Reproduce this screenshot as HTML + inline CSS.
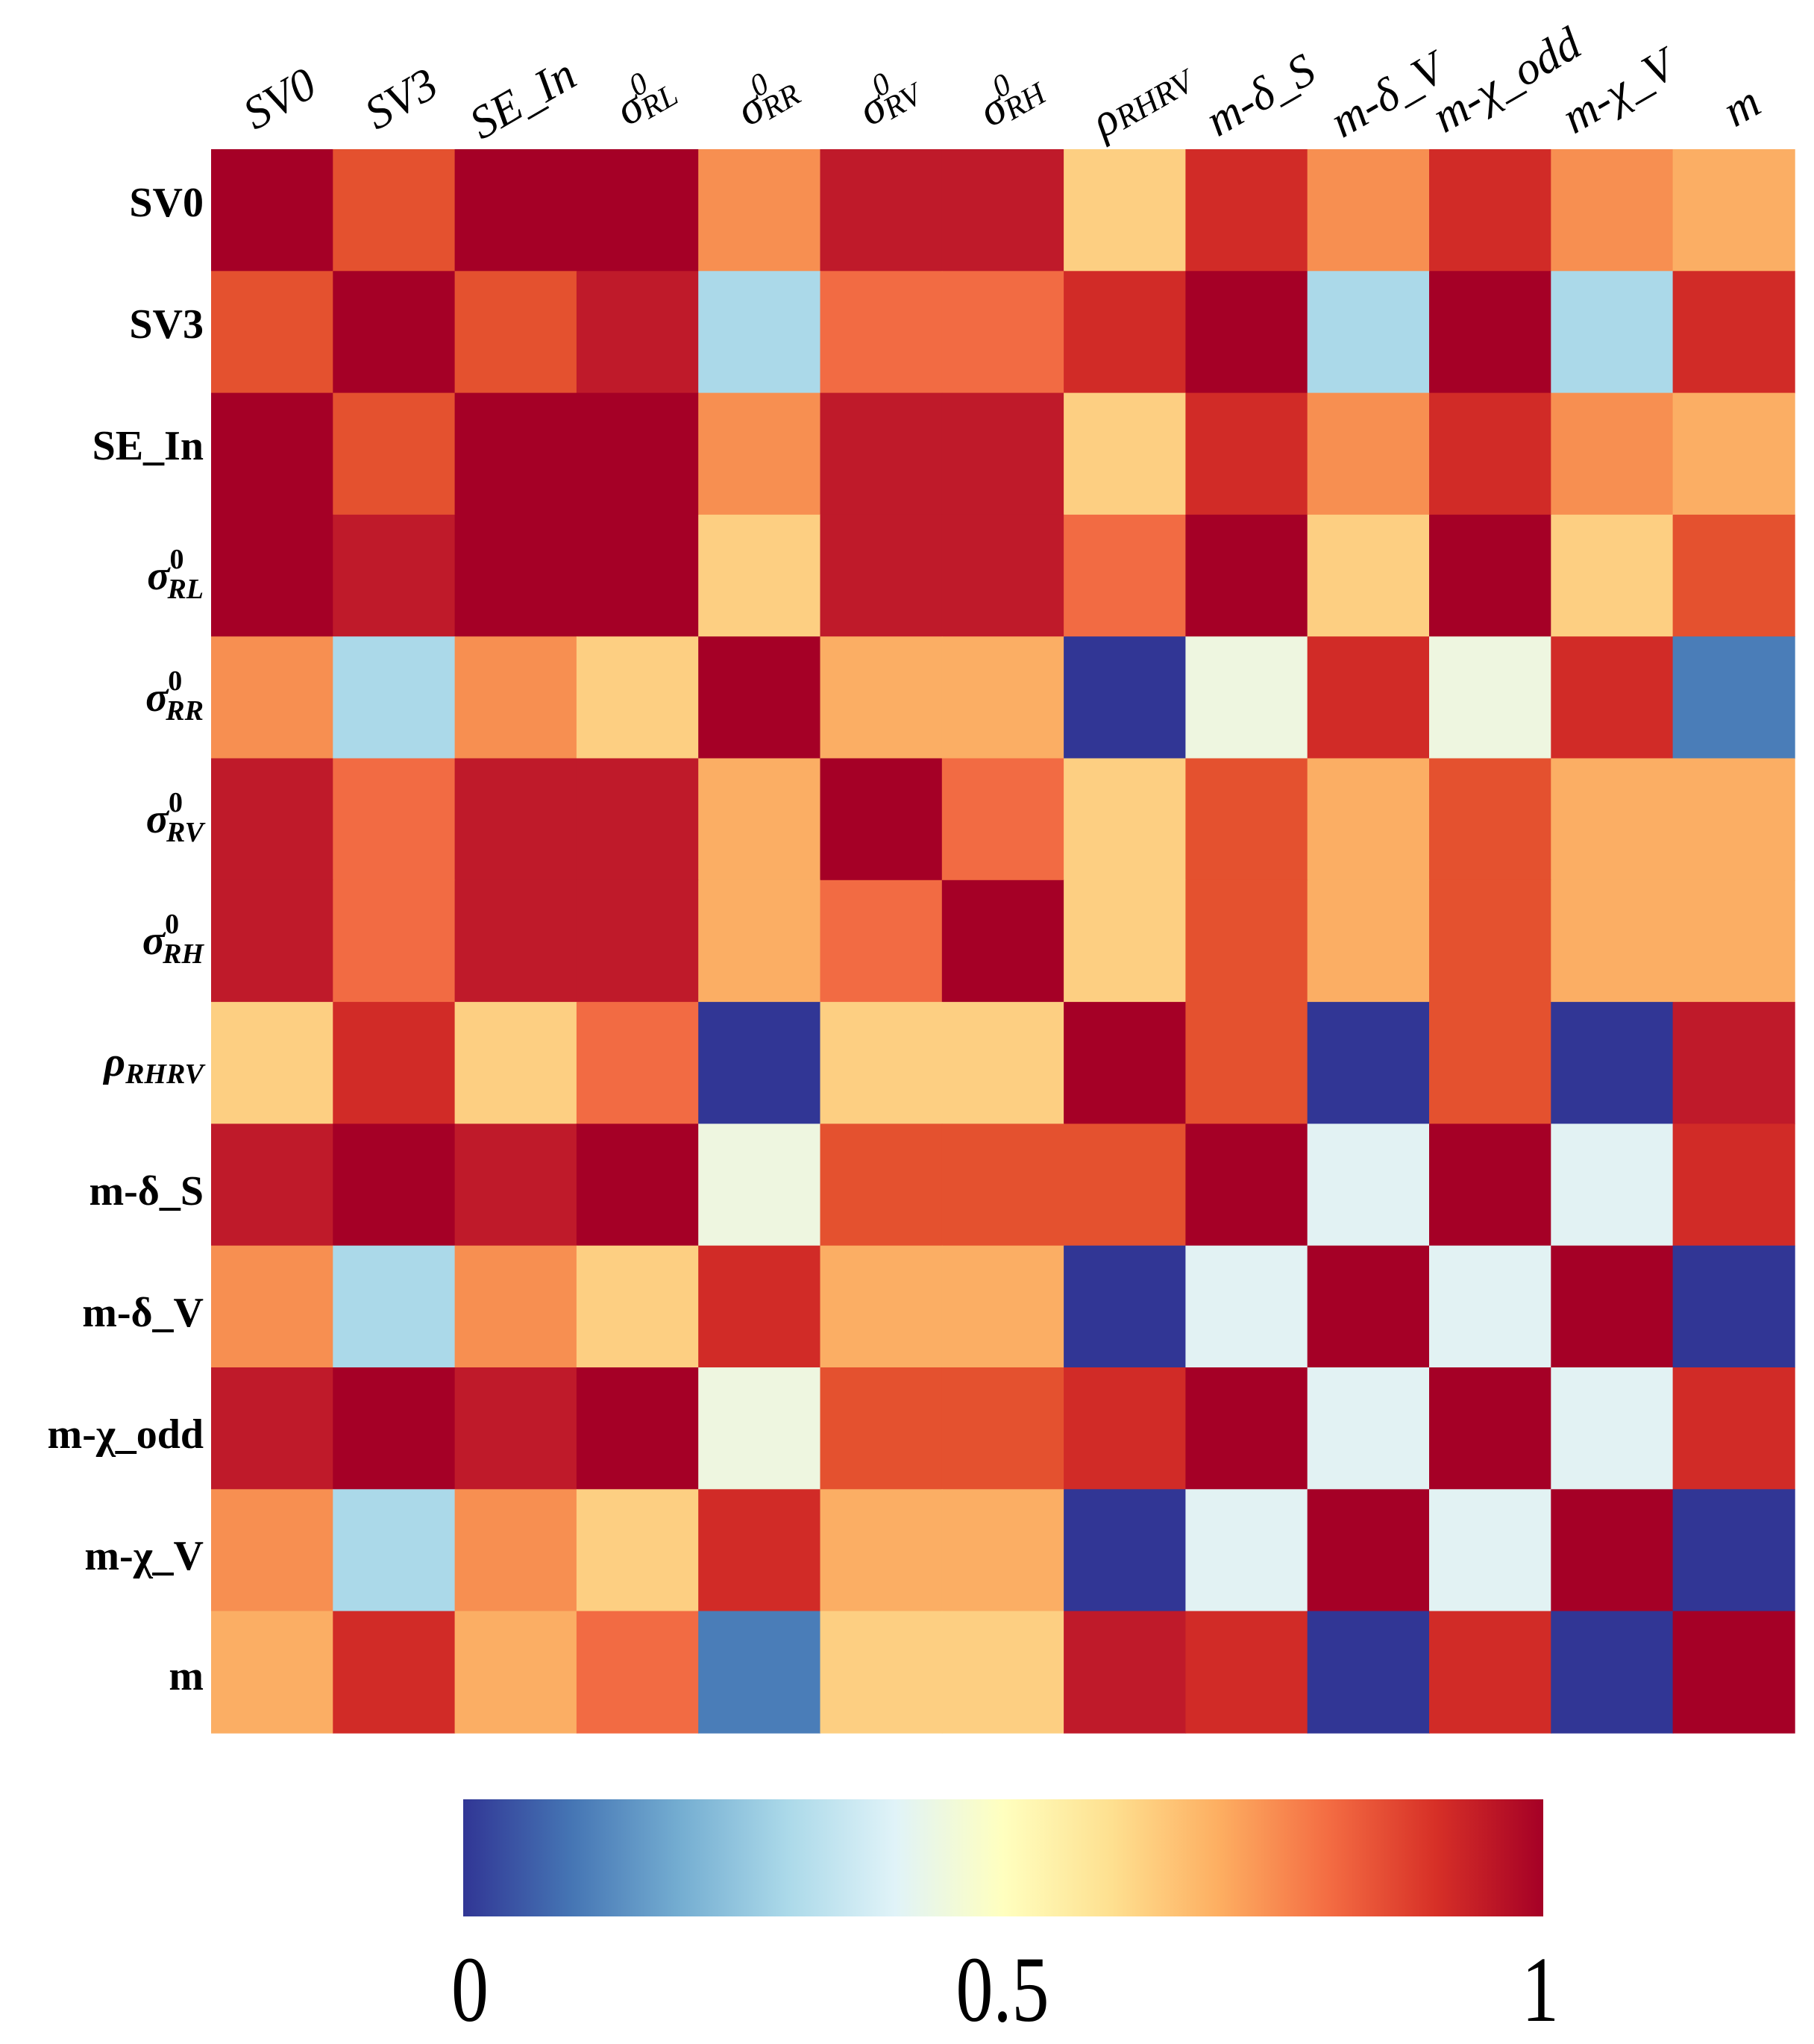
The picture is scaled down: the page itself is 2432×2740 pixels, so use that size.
<!DOCTYPE html>
<html><head><meta charset="utf-8"><style>html,body{margin:0;padding:0;background:#fff}svg{display:block}</style></head>
<body>
<svg width="2432" height="2740" viewBox="0 0 2432 2740" xmlns="http://www.w3.org/2000/svg">
<defs>
<linearGradient id="cb" x1="0" x2="1" y1="0" y2="0">
<stop offset="0" stop-color="#313695"/><stop offset="0.1" stop-color="#4575b4"/><stop offset="0.2" stop-color="#74add1"/><stop offset="0.3" stop-color="#abd9e9"/><stop offset="0.4" stop-color="#e0f3f8"/><stop offset="0.5" stop-color="#ffffbf"/><stop offset="0.6" stop-color="#fee090"/><stop offset="0.7" stop-color="#fdae61"/><stop offset="0.8" stop-color="#f46d43"/><stop offset="0.9" stop-color="#d73027"/><stop offset="1" stop-color="#a50026"/>
</linearGradient>
</defs>
<g id="grid"></g>
<rect x="621" y="2412" width="1448" height="157" fill="url(#cb)"/>
<g font-family="Liberation Serif, serif" font-size="125" text-anchor="middle">
<text x="630" y="2709" transform="translate(630 0) scale(0.8 1) translate(-630 0)">0</text>
<text x="1344" y="2709" transform="translate(1344 0) scale(0.8 1) translate(-1344 0)">0.5</text>
<text x="2065" y="2709" transform="translate(2065 0) scale(0.8 1) translate(-2065 0)">1</text>
</g>
<g font-family="Liberation Serif, DejaVu Serif, serif" font-weight="bold" font-size="56" text-anchor="end" fill="#000">
<text x="273" y="290">SV0</text>
<text x="273" y="453">SV3</text>
<text x="273" y="616">SE_In</text>
<text x="273" y="790"><tspan font-style="italic">σ</tspan><tspan font-size="38" dy="-28">0</tspan><tspan font-size="38" font-style="italic" dx="-22" dy="40">RL</tspan></text>
<text x="273" y="953"><tspan font-style="italic">σ</tspan><tspan font-size="38" dy="-28">0</tspan><tspan font-size="38" font-style="italic" dx="-22" dy="40">RR</tspan></text>
<text x="273" y="1116"><tspan font-style="italic">σ</tspan><tspan font-size="38" dy="-28">0</tspan><tspan font-size="38" font-style="italic" dx="-22" dy="40">RV</tspan></text>
<text x="273" y="1279"><tspan font-style="italic">σ</tspan><tspan font-size="38" dy="-28">0</tspan><tspan font-size="38" font-style="italic" dx="-22" dy="40">RH</tspan></text>
<text x="273" y="1442"><tspan font-style="italic">ρ</tspan><tspan font-size="38" font-style="italic" dy="10">RHRV</tspan></text>
<text x="273" y="1615">m-δ_S</text>
<text x="273" y="1778">m-δ_V</text>
<text x="273" y="1941">m-χ_odd</text>
<text x="273" y="2104">m-χ_V</text>
<text x="273" y="2265">m</text>
</g>
<g font-family="Liberation Serif, DejaVu Serif, serif" font-style="italic" font-size="62" fill="#000" text-anchor="middle">
<text x="385" y="150" transform="rotate(-30 385 150)">SV0</text>
<text x="548" y="150" transform="rotate(-30 548 150)">SV3</text>
<text x="711" y="150" transform="rotate(-30 711 150)">SE_In</text>
<text x="875" y="150" transform="rotate(-30 875 150)">σ<tspan font-size="42" dy="-28">0</tspan><tspan font-size="42" dx="-22" dy="34">RL</tspan></text>
<text x="1038" y="150" transform="rotate(-30 1038 150)">σ<tspan font-size="42" dy="-28">0</tspan><tspan font-size="42" dx="-22" dy="34">RR</tspan></text>
<text x="1201" y="150" transform="rotate(-30 1201 150)">σ<tspan font-size="42" dy="-28">0</tspan><tspan font-size="42" dx="-22" dy="34">RV</tspan></text>
<text x="1365" y="150" transform="rotate(-30 1365 150)">σ<tspan font-size="42" dy="-28">0</tspan><tspan font-size="42" dx="-22" dy="34">RH</tspan></text>
<text x="1540" y="150" transform="rotate(-30 1540 150)">ρ<tspan font-size="44" dy="4">RHRV</tspan></text>
<text x="1700" y="145" transform="rotate(-30 1700 145)">m-δ_S</text>
<text x="1870" y="145" transform="rotate(-30 1870 145)">m-δ_V</text>
<text x="2030" y="125" transform="rotate(-30 2030 125)">m-χ_odd</text>
<text x="2180" y="140" transform="rotate(-30 2180 140)">m-χ_V</text>
<text x="2345" y="160" transform="rotate(-30 2345 160)">m</text>
</g>
<script>
var C={D:'#a50026',R:'#bf1a2a',r:'#d12b27',O:'#e4512f',o:'#f26b43',p:'#f78f51',P:'#fbae64',Y:'#fdcf82',W:'#eef6e0',c:'#e2f2f3',B:'#abd9e9',N:'#313695',M:'#4a7db8'};
var rows=["DODDpRRYrprpP","ODORBoorDBDBr","DODDpRRYrprpP","DRDDYRRoDYDYO","pBpYDPPNWrWrM","RoRRPDoYOPOPP","RoRRPoDYOPOPP","YrYoNYYDONONR","RDRDWOOODcDcr","pBpYrPPNcDcDN","RDRDWOOrDcDcr","pBpYrPPNcDcDN","PrPoMYYRrNrND"];
var g=document.getElementById('grid'),ns='http://www.w3.org/2000/svg',x0=283,y0=200,s=163.3;
for(var i=0;i<13;i++)for(var j=0;j<13;j++){var e=document.createElementNS(ns,'rect');e.setAttribute('x',x0+j*s);e.setAttribute('y',y0+i*s);e.setAttribute('width',s+0.8);e.setAttribute('height',s+0.8);e.setAttribute('fill',C[rows[i][j]]);g.appendChild(e);}
</script>
</svg>
</body></html>
